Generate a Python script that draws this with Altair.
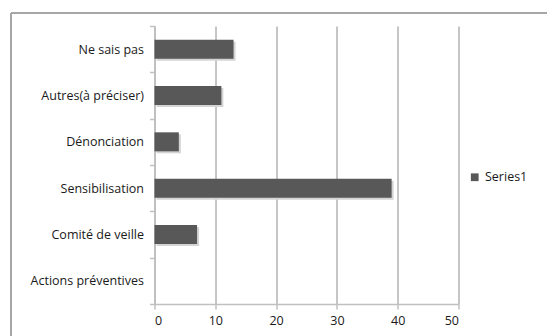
import altair as alt
import pandas as pd

categories = ["Ne sais pas", "Autres(à préciser)", "Dénonciation",
              "Sensibilisation", "Comité de veille", "Actions préventives"]
values = [13, 11, 4, 39, 7, 0]
series = ["Series1"] * len(categories)

df = pd.DataFrame({"cat": categories, "val": values, "series": series})

FONT = "Open Sans"
W, H = 304, 278

y_enc = alt.Y("cat:N", sort=categories, title=None,
              scale=alt.Scale(paddingInner=0, paddingOuter=0),
              axis=alt.Axis(tickBand="extent", domainColor="#c0c0c0", domainWidth=2,
                            tickColor="#c0c0c0", tickWidth=1.5, tickSize=5,
                            labelPadding=6, labelFontSize=12.5, labelColor="#1a1a1a",
                            labelFont=FONT, grid=False))

x_enc = alt.X("val:Q", title=None,
              scale=alt.Scale(domain=[0, 50], nice=False),
              axis=alt.Axis(values=[0, 10, 20, 30, 40, 50], grid=True,
                            gridColor="#8c8c8c", gridWidth=1,
                            domainColor="#c0c0c0", domainWidth=1.5,
                            tickColor="#c0c0c0", tickSize=5, tickWidth=1.5,
                            labelPadding=5, labelFontSize=12.5, labelColor="#1a1a1a",
                            labelFont=FONT))

shadow = alt.Chart(df).mark_bar(size=19, color="#d4d4d4", xOffset=2, yOffset=2).encode(
    y=alt.Y("cat:N", sort=categories), x=alt.X("val:Q"))

bars = alt.Chart(df).mark_bar(size=19).encode(
    y=y_enc,
    x=x_enc,
    color=alt.Color("series:N", title=None,
                    scale=alt.Scale(range=["#585858"]),
                    legend=alt.Legend(orient="none", legendX=314, legendY=145,
                                      symbolType="square", symbolSize=60,
                                      labelFont=FONT, labelFontSize=12.5,
                                      labelColor="#1a1a1a", symbolStrokeWidth=0)),
)

frame_top = alt.Chart(df).mark_rule(color="#a6a6a6", strokeWidth=1.5).encode(
    x=alt.value(-143.5), x2=alt.value(W + 100), y=alt.value(-13))
frame_left = alt.Chart(df).mark_rule(color="#a6a6a6", strokeWidth=1.5).encode(
    x=alt.value(-143.5), y=alt.value(-13), y2=alt.value(H + 40))

chart = alt.layer(shadow, bars, frame_top, frame_left).properties(
    width=W, height=H,
    padding={"left": 154.5, "top": 26, "right": 88.5, "bottom": 32},
    autosize=alt.AutoSizeParams(type="none"),
    background="white",
).configure_view(stroke=None)

chart.save("out.html", embed_options={"renderer": "svg", "actions": False})
